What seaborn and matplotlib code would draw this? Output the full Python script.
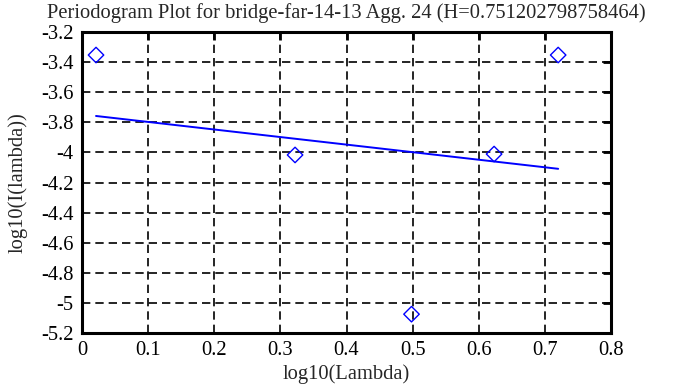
import matplotlib
matplotlib.use("Agg")
import matplotlib.pyplot as plt
import seaborn as sns
import pandas as pd

# data
log_lambda = [0.0212, 0.3222, 0.4983, 0.6232, 0.7201]
log_I = [-3.353, -4.017, -5.075, -4.011, -3.353]
fit_x = [0.0212, 0.7201]
fit_y = [-3.758, -4.109]
x_ticks = [0, 0.1, 0.2, 0.3, 0.4, 0.5, 0.6, 0.7, 0.8]
y_ticks = [-5.2, -5.0, -4.8, -4.6, -4.4, -4.2, -4.0, -3.8, -3.6, -3.4, -3.2]
title = "Periodogram Plot for bridge-far-14-13 Agg. 24 (H=0.751202798758464)"

sns.set_style("white")
plt.rcParams['font.family'] = ['Liberation Serif', 'DejaVu Serif']
FS = 14.8

fig = plt.figure(figsize=(6.88, 3.87), dpi=100)
ax = fig.add_axes([82/688, 1 - 333/387, (611-82)/688, (333-32)/387])

pts = pd.DataFrame({"x": log_lambda, "y": log_I})
fit = pd.DataFrame({"x": fit_x, "y": fit_y})

sns.lineplot(data=fit, x="x", y="y", ax=ax, color="#0000ff", linewidth=1.4, zorder=3)
sns.scatterplot(data=pts, x="x", y="y", ax=ax, marker="D", s=62,
                facecolors="none", edgecolor="#0000ff", linewidth=1.0, zorder=4)

ax.set_xlim(0, 0.8)
ax.set_ylim(-5.2, -3.2)
ax.set_xticks(x_ticks)
ax.set_yticks(y_ticks)
ax.set_xticklabels(["0" if v == 0 else f"{v:g}" for v in x_ticks])
ax.set_yticklabels([f"{v:g}" for v in y_ticks])
ax.grid(True, color="black", linestyle=(0, (5, 3)), linewidth=1.2)
for s in ax.spines.values():
    s.set_visible(True)
    s.set_color("black")
    s.set_linewidth(2.2)
ax.tick_params(direction="in", length=6, width=2, top=True, right=True,
               labelsize=FS, pad=6, colors="black")
ax.set_xlabel("log10(Lambda)", fontsize=FS, labelpad=3)
ax.set_ylabel("log10(I(lambda))", fontsize=FS, labelpad=10)
ax.set_title(title, fontsize=FS, pad=10)

fig.savefig("out.png", dpi=100)
